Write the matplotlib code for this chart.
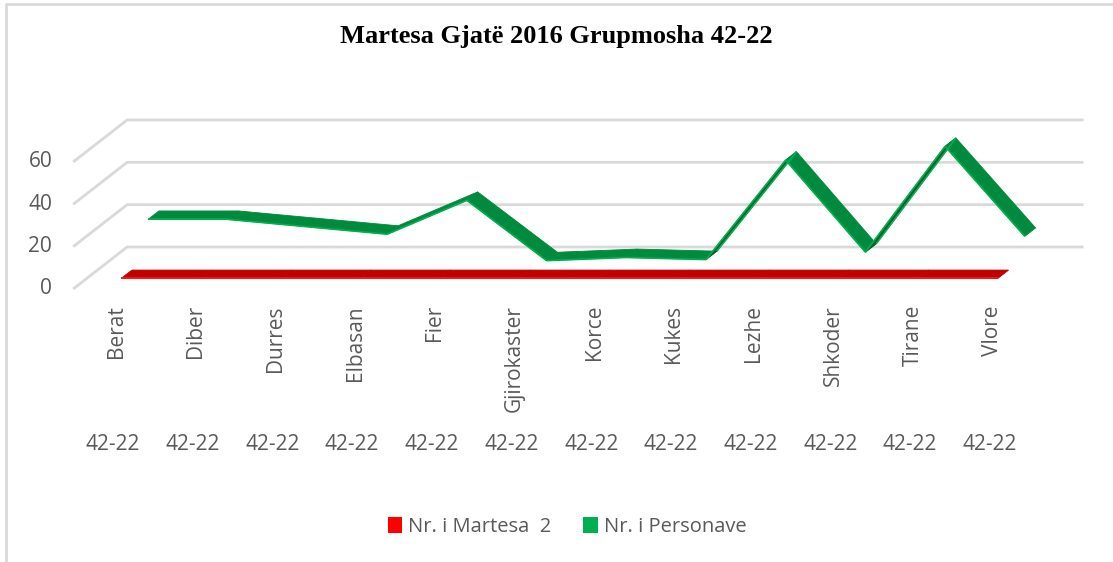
import matplotlib
matplotlib.use("Agg")
import matplotlib.pyplot as plt
from matplotlib.patches import Polygon, Patch
from matplotlib.lines import Line2D
import matplotlib.transforms as mtransforms
import numpy as np

# data
cities = ["Berat", "Diber", "Durres", "Elbasan", "Fier", "Gjirokaster",
          "Korce", "Kukes", "Lezhe", "Shkoder", "Tirane", "Vlore"]
age_group = ["42-22"] * 12
martesa = [2, 2, 2, 2, 2, 2, 2, 2, 2, 2, 2, 2]
personave = [20, 20, 16.5, 13, 29, 0.5, 2, 1, 48, 4.5, 54.5, 12]
yticks = [0, 20, 40, 60]
title = "Martesa Gjatë 2016 Grupmosha 42-22"

W, H = 1113, 562
fig = plt.figure(figsize=(W / 100, H / 100), dpi=100)
ax = fig.add_axes([0, 0, 1, 1])
ax.axis("off")

# pixel layout of the pseudo-3d plot area
x0_px, cat_px = 113.0, 79.7      # first category centre, category width
y0_px, val_px = 289.0, 2.117     # value 0 on front edge, px per unit
ax.set_xlim((0 - x0_px) / cat_px, (W - x0_px) / cat_px)
ax.set_ylim(-(H - y0_px) / val_px, y0_px / val_px)

DX = 54.0 / cat_px   # depth vector in data units
DY = 42.0 / val_px
n = len(cities)

grid_c = "#D9D9D9"
txt_c = "#595959"

# gridlines: left wall diagonal + back wall
for v in yticks:
    ax.plot([-0.5, -0.5 + DX, n - 0.5 + DX], [v, v + DY, v + DY],
            color=grid_c, lw=2, solid_capstyle="butt", zorder=1)

off = lambda dx, dy: mtransforms.offset_copy(ax.transData, fig=fig, x=dx, y=dy, units="dots")
for v in yticks:
    ax.text(-0.5, v, str(v), transform=off(-21, 0), ha="right", va="center",
            fontsize=15, color=txt_c, family="Open Sans")


def ribbon(vals, d0, d1, top_c, under_c, edge_c, z):
    x = np.arange(len(vals), dtype=float)
    v = np.asarray(vals, dtype=float)
    fx, fy = x + DX * d0, v + DY * d0
    bx, by = x + DX * d1, v + DY * d1
    for i in range(len(vals) - 1):
        a = (fx[i + 1] - fx[i]) * cat_px
        b = (fy[i + 1] - fy[i]) * val_px
        cross = a * 42.0 - b * 54.0
        col = top_c if cross > 0 else under_c
        pts = [(fx[i], fy[i]), (fx[i + 1], fy[i + 1]),
               (bx[i + 1], by[i + 1]), (bx[i], by[i])]
        ax.add_patch(Polygon(pts, closed=True, facecolor=col,
                             edgecolor=col, lw=0.6, zorder=z))
        # lit front / back edges
        ax.plot([fx[i], fx[i + 1]], [fy[i], fy[i + 1]], color=edge_c,
                lw=1.2, solid_capstyle="butt", zorder=z + 0.1)
        if cross < 0:
            ax.plot([bx[i], bx[i + 1]], [by[i], by[i + 1]], color=edge_c,
                    lw=1.2, solid_capstyle="butt", zorder=z + 0.1)


ribbon(personave, 0.65, 0.85, "#008A3E", "#0B5C2A", "#00B050", 3)
ribbon(martesa, 0.15, 0.35, "#C00000", "#8B0000", "#FF1A1A", 4)

# category labels
for i, c in enumerate(cities):
    ax.text(i, 0, c, transform=off(3, -16), rotation=90, ha="center", va="top",
            fontsize=15, color=txt_c, family="Open Sans")
for i, g in enumerate(age_group):
    ax.text(i, 0, g, transform=off(0, -(445 - y0_px)), ha="center", va="center",
            fontsize=15, color=txt_c, family="Open Sans")

fig.text(0.5, 1 - 37 / H, title, ha="center", va="center", fontsize=19,
         fontweight="bold", family="Liberation Serif", color="black")

handles = [Patch(facecolor="#FF0000", edgecolor="none"),
           Patch(facecolor="#00B050", edgecolor="none")]
leg = fig.legend(handles, ["Nr. i Martesa  2", "Nr. i Personave"],
                 loc="center", bbox_to_anchor=(567 / W, 1 - 527 / H), ncol=2,
                 frameon=False, handlelength=0.7, handleheight=0.8,
                 handletextpad=0.3, columnspacing=1.6,
                 prop={"family": "Open Sans", "size": 14.5})
for t in leg.get_texts():
    t.set_color(txt_c)

# chart border
fig.add_artist(Line2D([6 / W, 6 / W, 1], [0, 1 - 4 / H, 1 - 4 / H],
                      transform=fig.transFigure, color=grid_c, lw=2))

fig.savefig("out.png", dpi=100)
